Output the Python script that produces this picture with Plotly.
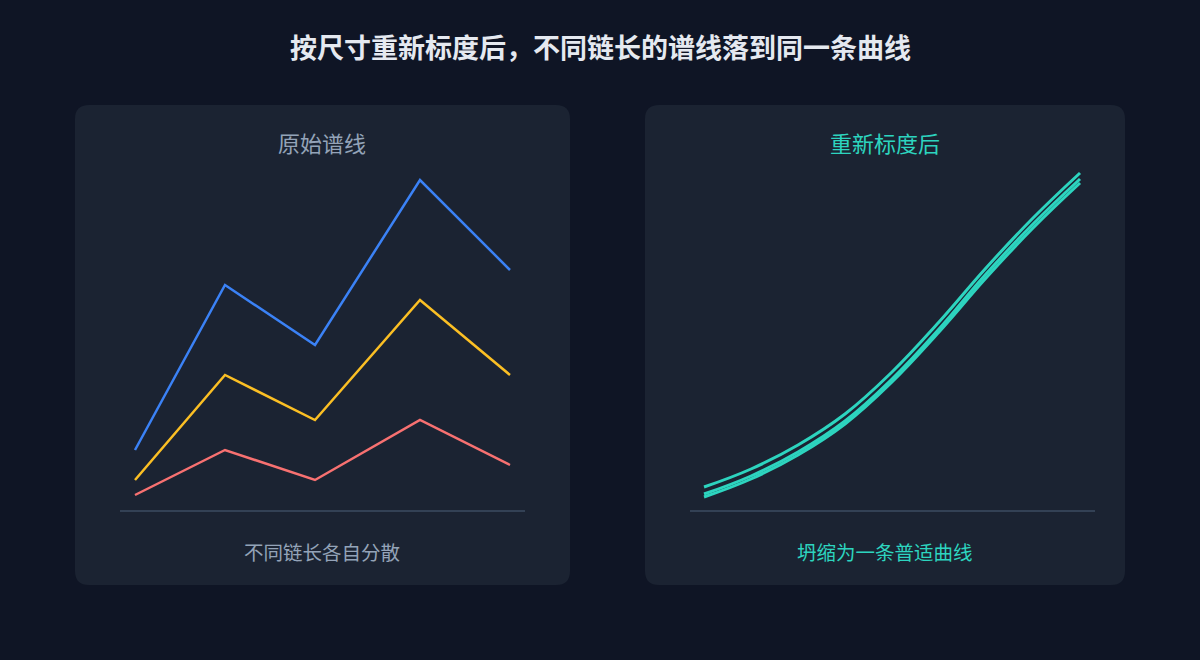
import plotly.graph_objects as go

# raw spectra, one line per chain length (left panel)
raw_x = [0, 6, 12, 19, 25]
raw_long = [60, 225, 165, 330, 240]
raw_mid = [30, 135, 90, 210, 135]
raw_short = [15, 60, 30, 90, 45]

# rescaled spectra (right panel)
scaled_x = [0, 1, 2, 3, 4, 5, 6, 7, 8]
scaled_a = [23, 41, 65, 96, 138, 188, 242, 292, 337]
scaled_b = [16, 34, 58, 89, 131, 181, 236, 286, 331]
scaled_c = [13, 31, 55, 86, 128, 178, 232, 282, 327]

W, H = 1200, 660
BG = "#0f1525"
PANEL = "#1b2332"
TEAL = "#2dd4bf"
GREY = "#94a3b8"
FONT = "Noto Sans CJK SC"


def px(x):
    return x / W


def py(y):
    return 1 - y / H


# rounded rectangle as svg path in paper coords
def rounded_rect(x0, y0, x1, y1, r):
    pts = [
        f"M{px(x0 + r)},{py(y0)}",
        f"L{px(x1 - r)},{py(y0)}",
        f"Q{px(x1)},{py(y0)} {px(x1)},{py(y0 + r)}",
        f"L{px(x1)},{py(y1 - r)}",
        f"Q{px(x1)},{py(y1)} {px(x1 - r)},{py(y1)}",
        f"L{px(x0 + r)},{py(y1)}",
        f"Q{px(x0)},{py(y1)} {px(x0)},{py(y1 - r)}",
        f"L{px(x0)},{py(y0 + r)}",
        f"Q{px(x0)},{py(y0)} {px(x0 + r)},{py(y0)}",
        "Z",
    ]
    return " ".join(pts)


def label(text, x, y, size, color, bold=False):
    if bold:
        text = f"<b>{text}</b>"
    return dict(text=text, x=px(x), y=py(y), xref="paper", yref="paper",
                xanchor="center", yanchor="middle", showarrow=False,
                font=dict(size=size, color=color, family=FONT))


fig = go.Figure()

# left: lines scatter apart
for vals, col in [(raw_long, "#3b82f6"), (raw_mid, "#fbbf24"), (raw_short, "#f87171")]:
    fig.add_trace(go.Scatter(
        x=raw_x, y=vals, mode="lines", xaxis="x", yaxis="y",
        line=dict(color=col, width=2.5), hoverinfo="skip", showlegend=False,
    ))

# right: everything collapses onto one curve
for vals in [scaled_a, scaled_b, scaled_c]:
    fig.add_trace(go.Scatter(
        x=scaled_x, y=vals, mode="lines", xaxis="x2", yaxis="y2",
        line=dict(color=TEAL, width=3, shape="spline", smoothing=1.2),
        hoverinfo="skip", showlegend=False,
    ))

ydom = [py(510), py(150)]
axis_common = dict(showgrid=False, zeroline=False, showticklabels=False, ticks="")

fig.update_layout(
    width=W, height=H,
    margin=dict(l=0, r=0, t=0, b=0),
    paper_bgcolor=BG, plot_bgcolor="rgba(0,0,0,0)",
    font=dict(family=FONT),
    xaxis=dict(domain=[px(120), px(525)], range=[-1, 26], anchor="y",
               showline=True, linecolor="#334155", linewidth=2, **axis_common),
    yaxis=dict(domain=ydom, range=[0, 360], anchor="x", **axis_common),
    xaxis2=dict(domain=[px(690), px(1095)], range=[-0.298, 8.319], anchor="y2",
                showline=True, linecolor="#334155", linewidth=2, **axis_common),
    yaxis2=dict(domain=ydom, range=[0, 360], anchor="x2", **axis_common),
    shapes=[
        dict(type="path", xref="paper", yref="paper", layer="below",
             path=rounded_rect(75, 105, 570, 585, 14), fillcolor=PANEL, line=dict(width=0)),
        dict(type="path", xref="paper", yref="paper", layer="below",
             path=rounded_rect(645, 105, 1125, 585, 14), fillcolor=PANEL, line=dict(width=0)),
    ],
    annotations=[
        label("按尺寸重新标度后，不同链长的谱线落到同一条曲线", 600, 47, 27, "#e5e9f0", bold=True),
        label("原始谱线", 322, 142, 22, GREY),
        label("重新标度后", 885, 142, 22, TEAL),
        label("不同链长各自分散", 322, 551, 19.5, GREY),
        label("坍缩为一条普适曲线", 885, 551, 19.5, TEAL),
    ],
)

fig.write_html("out.html", config={"displayModeBar": False},
               post_script="document.body.style.margin='0';")
